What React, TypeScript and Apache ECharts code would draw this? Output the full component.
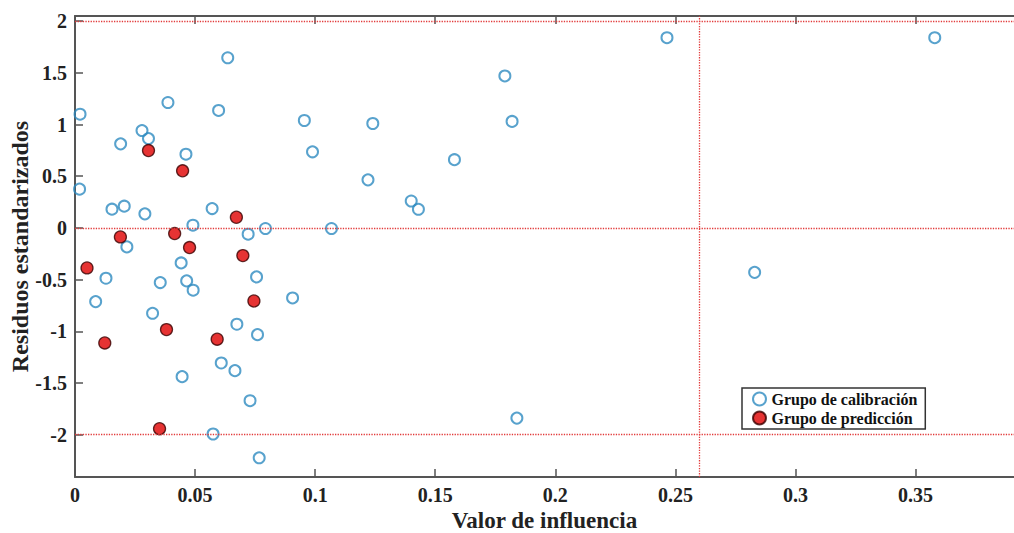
import React, { useEffect, useRef } from "react";
import * as echarts from "echarts";

// Grupo de calibración (valor de influencia, residuo estandarizado)
const calibX = [
  0.0021, 0.0387, 0.0598, 0.0279, 0.0306, 0.019, 0.0462, 0.0955, 0.0989, 0.0019,
  0.0154, 0.0205, 0.0291, 0.0571, 0.0491, 0.0793, 0.1068, 0.0721, 0.0216, 0.0442,
  0.0129, 0.0355, 0.0465, 0.0492, 0.0756, 0.0086, 0.0906, 0.0323, 0.0674, 0.076,
  0.0609, 0.0666, 0.0446, 0.0729, 0.0575, 0.0767,
  0.0636, 0.124, 0.122, 0.14, 0.143, 0.158, 0.179, 0.182, 0.184, 0.2465, 0.283, 0.358,
];
const calibY = [
  1.1, 1.213, 1.136, 0.942, 0.864, 0.813, 0.713, 1.039, 0.736, 0.375,
  0.181, 0.21, 0.136, 0.187, 0.026, -0.006, -0.006, -0.061, -0.184, -0.339,
  -0.487, -0.529, -0.513, -0.603, -0.474, -0.713, -0.678, -0.826, -0.932, -1.033,
  -1.307, -1.381, -1.439, -1.672, -1.994, -2.224,
  1.646, 1.01, 0.465, 0.26, 0.18, 0.66, 1.47, 1.03, -1.84, 1.84, -0.43, 1.84,
];

// Grupo de predicción
const predX = [
  0.0306, 0.0448, 0.0672, 0.0189, 0.0415, 0.0477, 0.0699, 0.005, 0.0745, 0.0381,
  0.0124, 0.0592, 0.0352,
];
const predY = [
  0.748, 0.552, 0.103, -0.087, -0.055, -0.19, -0.268, -0.387, -0.707, -0.984,
  -1.113, -1.077, -1.943,
];

const xTicks = [0, 0.05, 0.1, 0.15, 0.2, 0.25, 0.3, 0.35];
const yTicks = [-2, -1.5, -1, -0.5, 0, 0.5, 1, 1.5, 2];
const hLines = [2, 0, -2];
const leverageLimit = 0.2608;

const FONT = "'Liberation Serif', 'Times New Roman', serif";
const AXIS_COLOR = "#555";

export default function App() {
  const ref = useRef<HTMLDivElement>(null);

  useEffect(() => {
    if (!ref.current) return;
    const chart = echarts.init(ref.current, undefined, { renderer: "svg" });
    const axisCommon = {
      min: 0,
      max: 0.391,
      axisLine: { show: true, onZero: false, lineStyle: { color: AXIS_COLOR, width: 2 } },
      axisTick: {
        show: true,
        inside: true,
        length: 8,
        customValues: xTicks,
        lineStyle: { color: AXIS_COLOR, width: 1.5 },
      },
      splitLine: { show: false },
    };
    chart.setOption({
      animation: false,
      backgroundColor: "#fff",
      grid: {
        left: 75,
        right: 0,
        top: 16,
        bottom: 56,
        containLabel: false,
        outerBoundsMode: "none",
      },
      legend: {
        orient: "vertical",
        left: 742,
        top: 388,
        width: 188,
        padding: [3, 8, 3, 10],
        itemGap: 3,
        itemWidth: 14,
        itemHeight: 13,
        backgroundColor: "#fff",
        borderColor: "#333",
        borderWidth: 1.5,
        borderRadius: 0,
        textStyle: { fontFamily: FONT, fontWeight: "bold", fontSize: 16, color: "#111" },
        data: ["Grupo de calibración", "Grupo de predicción"],
      },
      xAxis: [
        {
          ...axisCommon,
          type: "value",
          position: "bottom",
          name: "Valor de influencia",
          nameLocation: "middle",
          nameGap: 31,
          nameMoveOverlap: false,
          nameTextStyle: {
            fontFamily: FONT,
            fontWeight: "bold",
            fontSize: 23,
            lineHeight: 24,
            color: "#222",
          },
          axisLabel: {
            show: true,
            customValues: xTicks,
            margin: 8,
            fontFamily: FONT,
            fontWeight: "bold",
            fontSize: 20,
            lineHeight: 20,
            color: "#222",
          },
        },
        {
          ...axisCommon,
          type: "value",
          position: "top",
          axisLabel: { show: false },
        },
      ],
      yAxis: {
        type: "value",
        min: -2.41,
        max: 2.05,
        name: "Residuos estandarizados",
        nameLocation: "middle",
        nameGap: 43,
        nameMoveOverlap: false,
        nameTextStyle: { fontFamily: FONT, fontWeight: "bold", fontSize: 24, color: "#222" },
        axisLine: { show: true, onZero: false, lineStyle: { color: AXIS_COLOR, width: 2 } },
        axisTick: {
          show: true,
          inside: true,
          length: 8,
          customValues: yTicks,
          lineStyle: { color: AXIS_COLOR, width: 1.5 },
        },
        axisLabel: {
          show: true,
          customValues: yTicks,
          margin: 8,
          fontFamily: FONT,
          fontWeight: "bold",
          fontSize: 20,
          color: "#222",
        },
        splitLine: { show: false },
      },
      series: [
        {
          type: "line",
          data: [],
          silent: true,
          z: 1,
          markLine: {
            silent: true,
            symbol: "none",
            label: { show: false },
            lineStyle: { color: "#e23a3a", type: "dotted", width: 1.3 },
            data: [
              ...hLines.map((v) => ({ yAxis: v })),
              { xAxis: leverageLimit },
            ],
          },
        },
        {
          name: "Grupo de calibración",
          type: "scatter",
          z: 3,
          symbol: "circle",
          symbolSize: 11,
          itemStyle: { color: "rgba(255,255,255,0)", borderColor: "#2e8bc0", borderWidth: 2 },
          data: calibX.map((x, i) => [x, calibY[i]]),
        },
        {
          name: "Grupo de predicción",
          type: "scatter",
          z: 4,
          symbol: "circle",
          symbolSize: 12,
          itemStyle: { color: "#e00000", borderColor: "#3a0000", borderWidth: 1.3 },
          data: predX.map((x, i) => [x, predY[i]]),
        },
      ],
    });
    return () => chart.dispose();
  }, []);

  return (
    <div
      ref={ref}
      style={{ position: "absolute", left: 0, top: 0, width: 1014, height: 533 }}
    />
  );
}
